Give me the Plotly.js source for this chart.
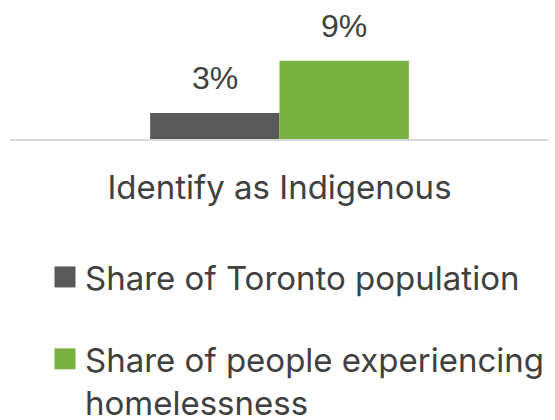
<!DOCTYPE html>
<html>
<head>
<meta charset="utf-8">
<script src="https://cdn.plot.ly/plotly-3.0.1.min.js"></script>
<style>
  html, body { margin: 0; padding: 0; background: #ffffff; }
  #chart { width: 555px; height: 420px; }
</style>
</head>
<body>
<div id="chart"></div>
<script>
// ---- data ----
const categories = ['Identify as Indigenous'];
const seriesNames = ['Share of Toronto population', 'Share of people experiencing<br>homelessness'];
const torontoShare = [3];
const homelessShare = [9];

// ---- style ----
const seriesColors = ['#595959', '#7AB041'];
const textColor = '#404040';
const labelFont = 'Liberation Sans, Arial, sans-serif';
const bodyFont = 'Inter, Open Sans, sans-serif';

const W = 555, H = 420;
const margin = { l: 10, r: 6, t: 0, b: 281, pad: 0, autoexpand: false };
const bargap = 0.52;

const seriesValues = [torontoShare, homelessShare];

const traces = seriesValues.map((vals, i) => ({
  type: 'bar',
  name: seriesNames[i],
  x: categories,
  y: vals,
  marker: { color: seriesColors[i], line: { width: 0 } },
  legendgroup: 'g' + i,
  hoverinfo: 'skip'
}));

// data labels above each bar (offset within the group computed from layout)
const plotW = W - margin.l - margin.r;
const barW = plotW * (1 - bargap) / seriesValues.length;
const annotations = [];
seriesValues.forEach((vals, i) => {
  vals.forEach((v, j) => {
    annotations.push({
      x: categories[j],
      y: v,
      xref: 'x', yref: 'y',
      text: v + '%',
      showarrow: false,
      yanchor: 'bottom',
      xanchor: 'center',
      xshift: (i - (seriesValues.length - 1) / 2) * barW,
      yshift: 15,
      font: { family: labelFont, size: 32, color: textColor }
    });
  });
});

const layout = {
  width: W,
  height: H,
  margin: margin,
  paper_bgcolor: '#ffffff',
  plot_bgcolor: '#ffffff',
  barmode: 'group',
  bargap: bargap,
  bargroupgap: 0,
  showlegend: true,
  font: { family: bodyFont, color: textColor },
  xaxis: {
    type: 'category',
    showline: true,
    linecolor: '#D9D9D9',
    linewidth: 2,
    ticks: '',
    showgrid: false,
    zeroline: false,
    automargin: false,
    ticklabelstandoff: 18,
    tickfont: { family: bodyFont, size: 33, color: textColor },
    fixedrange: true
  },
  yaxis: {
    range: [0, 16],
    visible: false,
    showgrid: false,
    zeroline: false,
    fixedrange: true
  },
  legend: {
    xref: 'container',
    yref: 'container',
    x: 45 / W,
    y: 1 - 249 / H,
    xanchor: 'left',
    yanchor: 'top',
    orientation: 'v',
    traceorder: 'grouped',
    tracegroupgap: 36,
    valign: 'top',
    bgcolor: 'rgba(0,0,0,0)',
    borderwidth: 0,
    font: { family: bodyFont, size: 33, color: textColor }
  },
  annotations: annotations
};

Plotly.newPlot('chart', traces, layout, { displayModeBar: false, staticPlot: true }).then(gd => {
  // enlarge legend swatches to match the reference's square markers
  gd.querySelectorAll('.legend .legendpoints path').forEach(p => {
    const t = p.getAttribute('transform') || '';
    p.setAttribute('transform', t + ' scale(1.75)');
  });
});
</script>
</body>
</html>
